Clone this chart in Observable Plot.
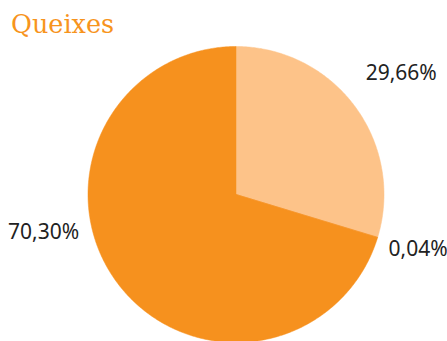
<!DOCTYPE html>
<html>
<head>
<meta charset="utf-8">
<script src="https://cdn.jsdelivr.net/npm/d3@7"></script>
<script src="https://cdn.jsdelivr.net/npm/@observablehq/plot@0.6"></script>
<style>
  html, body { margin: 0; padding: 0; background: #fff; }
  #title { font-family: "DejaVu Serif", serif; font-size: 25.5px; color: #f7941d; height: 44px; line-height: 44px; padding-left: 11px; box-sizing: border-box; padding-top: 2px; }
</style>
</head>
<body>
<div id="title">Queixes</div>
<div id="chart"></div>
<script>
const categories = ["A", "B", "C"];
const values = [29.66, 0.04, 70.30];
const labels = ["29,66%", "0,04%", "70,30%"];
const colors = ["#fdc389", "#f59a3a", "#f6911e"];

// layout (not data)
const W = 447, H = 297;
const cx = 235.5, cy = 150, R = 148;
const labelPos = [ {ang: 53.7, r: 205}, {ang: 106.6, r: 190}, {ang: 259, r: 196} ];

const pie = d3.pie().sort(null).value(d => d.value);
const data = categories.map((c, i) => ({category: c, value: values[i], label: labels[i], color: colors[i]}));
const arcs = pie(data);

const pts = [];
arcs.forEach((a, i) => {
  const n = Math.max(2, Math.ceil((a.endAngle - a.startAngle) / 0.01));
  pts.push({k: i, x: cx, y: cy});
  for (let j = 0; j <= n; j++) {
    const t = a.startAngle + (a.endAngle - a.startAngle) * j / n;
    pts.push({k: i, x: cx + R * Math.sin(t), y: cy - R * Math.cos(t)});
  }
  pts.push({k: i, x: cx, y: cy});
});

const labelData = arcs.map((a, i) => {
  const ang = labelPos[i].ang * Math.PI / 180;
  return {label: a.data.label, x: cx + labelPos[i].r * Math.sin(ang), y: cy - labelPos[i].r * Math.cos(ang)};
});

const chart = Plot.plot({
  width: W, height: H,
  margin: 0,
  x: {domain: [0, W], range: [0, W], axis: null},
  y: {domain: [0, H], range: [0, H], axis: null},
  style: {background: "#fff", overflow: "hidden"},
  marks: [
    Plot.line(pts, {x: "x", y: "y", z: "k", fill: d => colors[d.k], stroke: d => colors[d.k], strokeWidth: 0.5, curve: "linear"}),
    Plot.text(labelData, {x: "x", y: "y", text: "label", fontSize: 21, fill: "#222", fontFamily: "Noto Sans, sans-serif", textAnchor: "middle"})
  ]
});
document.getElementById("chart").appendChild(chart);
</script>
</body>
</html>
